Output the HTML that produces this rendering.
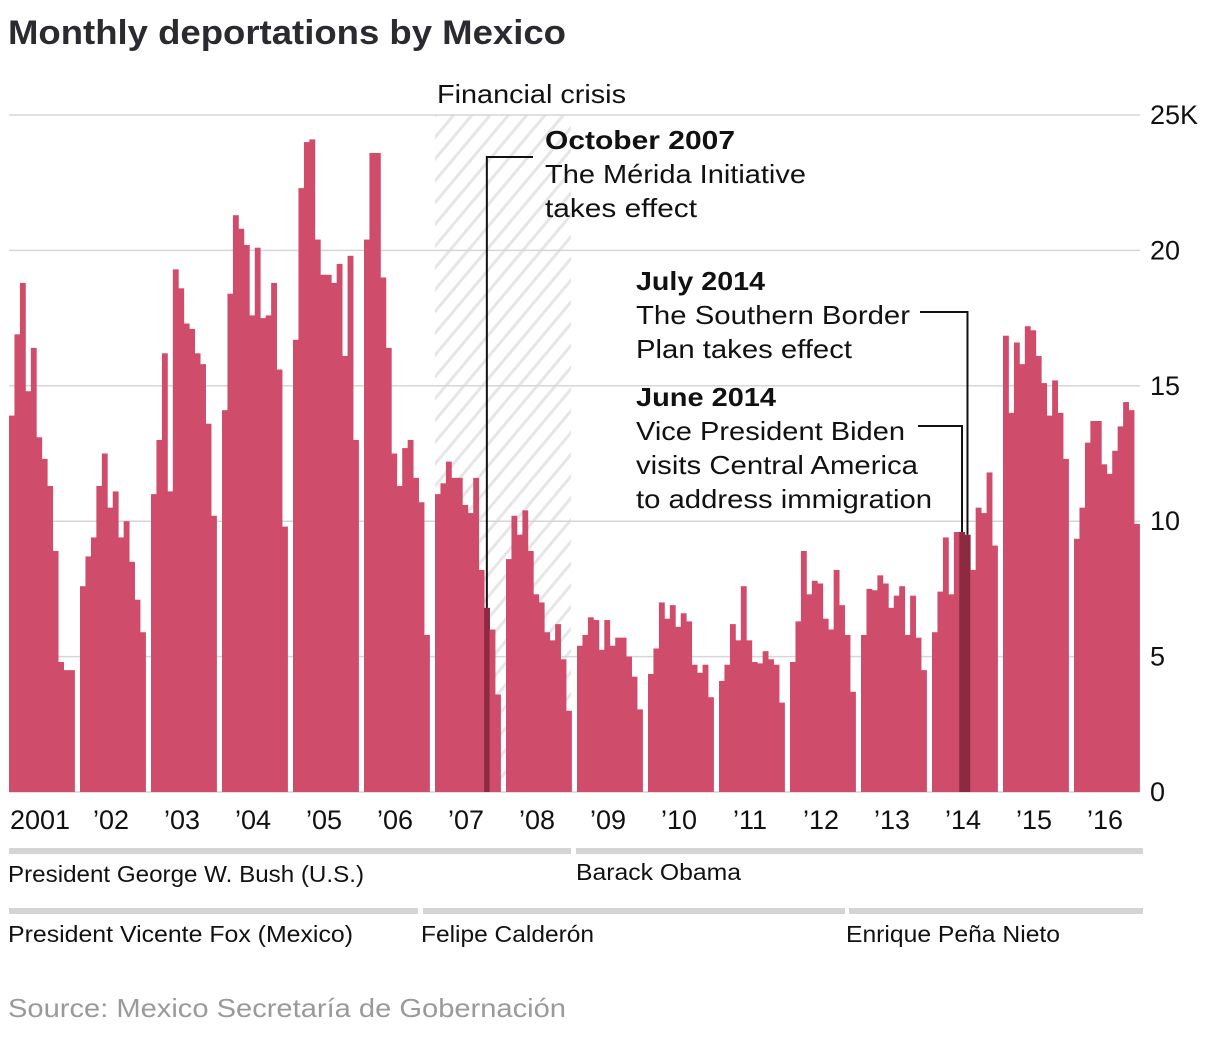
<!DOCTYPE html>
<html><head><meta charset="utf-8"><style>
body{margin:0;background:#fff;width:1218px;height:1038px;overflow:hidden;font-family:"Liberation Sans",sans-serif}
svg{display:block}
</style></head><body>
<svg id="chart" width="1218" height="1038">
<defs>
<pattern id="hatch" patternUnits="userSpaceOnUse" width="14" height="14" patternTransform="rotate(40)">
<rect width="14" height="14" fill="#fff"/><rect x="0" y="0" width="3" height="14" fill="#e6e6e6"/>
</pattern>
</defs>
<text x="8" y="44" font-size="34" font-weight="bold" fill="#2a2a30" textLength="558" lengthAdjust="spacingAndGlyphs">Monthly deportations by Mexico</text>
<rect x="435" y="115" width="136" height="677" fill="url(#hatch)"/>
<text x="437" y="103" font-size="26" textLength="189" lengthAdjust="spacingAndGlyphs" fill="#111">Financial crisis</text>
<g id="grid"></g>
<g id="bars"></g>
<g id="annot" fill="#111" font-size="26">
<text x="545" y="149" font-weight="bold" textLength="190" lengthAdjust="spacingAndGlyphs">October 2007</text>
<text x="545" y="183" textLength="261" lengthAdjust="spacingAndGlyphs">The Mérida Initiative</text>
<text x="545" y="217" textLength="152" lengthAdjust="spacingAndGlyphs">takes effect</text>
<text x="636" y="290" font-weight="bold" textLength="129" lengthAdjust="spacingAndGlyphs">July 2014</text>
<text x="636" y="324" textLength="274" lengthAdjust="spacingAndGlyphs">The Southern Border</text>
<text x="636" y="358" textLength="216" lengthAdjust="spacingAndGlyphs">Plan takes effect</text>
<text x="636" y="406" font-weight="bold" textLength="140" lengthAdjust="spacingAndGlyphs">June 2014</text>
<text x="636" y="440" textLength="269" lengthAdjust="spacingAndGlyphs">Vice President Biden</text>
<text x="636" y="474" textLength="282" lengthAdjust="spacingAndGlyphs">visits Central America</text>
<text x="636" y="508" textLength="296" lengthAdjust="spacingAndGlyphs">to address immigration</text>
</g>
<g id="leaders" fill="none" stroke="#111" stroke-width="2"></g>
<g id="xlabels" font-size="27" fill="#111"></g>
<g font-size="23" fill="#111">
<rect x="9" y="848" width="562" height="6" fill="#d4d4d4"/>
<rect x="576" y="848" width="567" height="6" fill="#d4d4d4"/>
<text x="8" y="882" textLength="356" lengthAdjust="spacingAndGlyphs">President George W. Bush (U.S.)</text>
<text x="576" y="880" textLength="165" lengthAdjust="spacingAndGlyphs">Barack Obama</text>
<rect x="9" y="908" width="409" height="6" fill="#d4d4d4"/>
<rect x="423" y="908" width="422" height="6" fill="#d4d4d4"/>
<rect x="849" y="908" width="294" height="6" fill="#d4d4d4"/>
<text x="8" y="942" textLength="345" lengthAdjust="spacingAndGlyphs">President Vicente Fox (Mexico)</text>
<text x="421" y="942" textLength="173" lengthAdjust="spacingAndGlyphs">Felipe Calderón</text>
<text x="846" y="942" textLength="214" lengthAdjust="spacingAndGlyphs">Enrique Peña Nieto</text>
</g>
<text x="8" y="1017" font-size="26" fill="#9a9a9a" textLength="558" lengthAdjust="spacingAndGlyphs">Source: Mexico Secretaría de Gobernación</text>
</svg>
<script>
const years=['2001','’02','’03','’04','’05','’06','’07','’08','’09','’10','’11','’12','’13','’14','’15','’16'];
const yTicks=[0,5,10,15,20,25];
const yTickLabels=['0','5','10','15','20','25K'];
const v2001=[13.9,16.9,18.8,14.8,16.4,13.1,12.3,11.3,8.9,4.8,4.5,4.5];
const v2002=[7.6,8.7,9.4,11.3,12.5,10.5,11.1,9.4,10.0,8.5,7.1,5.9];
const v2003=[11.0,13.0,16.2,11.1,19.3,18.6,17.3,17.1,16.2,15.8,13.6,10.2];
const v2004=[14.1,18.4,21.3,20.8,20.2,17.6,20.1,17.5,17.6,18.8,15.6,9.8];
const v2005=[16.7,22.3,24.0,24.1,20.4,19.1,19.1,18.8,19.5,16.1,19.8,13.0];
const v2006=[20.4,23.6,23.6,19.0,16.4,12.5,11.3,12.7,13.0,11.6,10.7,5.8];
const v2007=[11.0,11.4,12.2,11.6,11.6,10.6,10.3,11.6,8.2,6.8,6.0,3.6];
const v2008=[8.6,10.2,9.5,10.4,8.9,7.3,7.0,5.9,5.6,6.2,4.9,3.0];
const v2009=[5.4,5.8,6.45,6.35,5.25,6.35,5.4,5.7,5.7,5.0,4.26,3.05];
const v2010=[4.36,5.3,7.0,6.4,6.9,6.1,6.6,6.3,4.7,4.4,4.7,3.5];
const v2011=[4.1,4.7,6.2,5.6,7.6,5.6,4.8,4.75,5.2,4.9,4.7,3.3];
const v2012=[4.8,6.3,8.9,7.3,7.8,7.7,6.4,6.0,8.2,6.9,5.8,3.7];
const v2013=[5.8,7.5,7.45,8.0,7.7,6.8,7.25,7.6,5.8,7.25,5.7,4.5];
const v2014=[5.9,7.4,9.4,7.3,9.6,9.6,9.5,8.2,10.5,10.3,11.8,9.1];
const v2015=[16.85,14.0,16.6,15.8,17.2,17.05,16.1,15.1,13.9,15.2,14.0,12.3];
const v2016=[9.35,10.5,12.9,13.7,13.7,12.1,11.75,12.6,13.5,14.4,14.1,9.9];
const series=[v2001,v2002,v2003,v2004,v2005,v2006,v2007,v2008,v2009,v2010,v2011,v2012,v2013,v2014,v2015,v2016];
const highlights=[[6,9],[13,5],[13,6]];
const NS='http://www.w3.org/2000/svg';
const X0=9,STRIDE=71,BW=65.5/12,Y0=792,PX=27.08;
const yS=v=>Y0-v*PX;
const xS=(yi,m)=>X0+yi*STRIDE+m*BW;
function mk(t,a,p){const e=document.createElementNS(NS,t);for(const k in a)e.setAttribute(k,a[k]);p.appendChild(e);return e;}
const grid=document.getElementById('grid');
yTicks.forEach((t,i)=>{
 const l=mk('line',{x1:9,x2:1140,y1:yS(t),y2:yS(t),stroke:'#d6d6d6','stroke-width':1.5},grid);
 
 
 const tx=mk('text',{x:1150,y:yS(t)+9,'font-size':27,fill:'#111'},grid);
 tx.textContent=yTickLabels[i];
 
 
});
const bars=document.getElementById('bars');
series.forEach((arr,yi)=>{
 arr.forEach((v,m)=>{
  const hl=highlights.some(h=>h[0]===yi&&h[1]===m);
  const r=mk('rect',{x:xS(yi,m),y:yS(v),width:BW+0.4,height:v*PX,fill:hl?'#8b2a40':'#cf4d6b'},bars);
  
  
 });
 const t=mk('text',{x:X0+yi*STRIDE+31,y:829,'text-anchor':'middle'},document.getElementById('xlabels'));
 t.textContent=years[yi];
 
 
});
const ld=document.getElementById('leaders');
function leader(yi,m,tx,ty,name){
 const x=xS(yi,m)+BW/2;
 const p=mk('polyline',{points:`${tx},${ty} ${x},${ty} ${x},${yS(series[yi][m])}`},ld);
 
 
}
leader(6,9,533,157,'oct-2007-leader');
leader(13,6,920,312,'july-2014-leader');
leader(13,5,918,426,'june-2014-leader');
</script>
</body></html>
